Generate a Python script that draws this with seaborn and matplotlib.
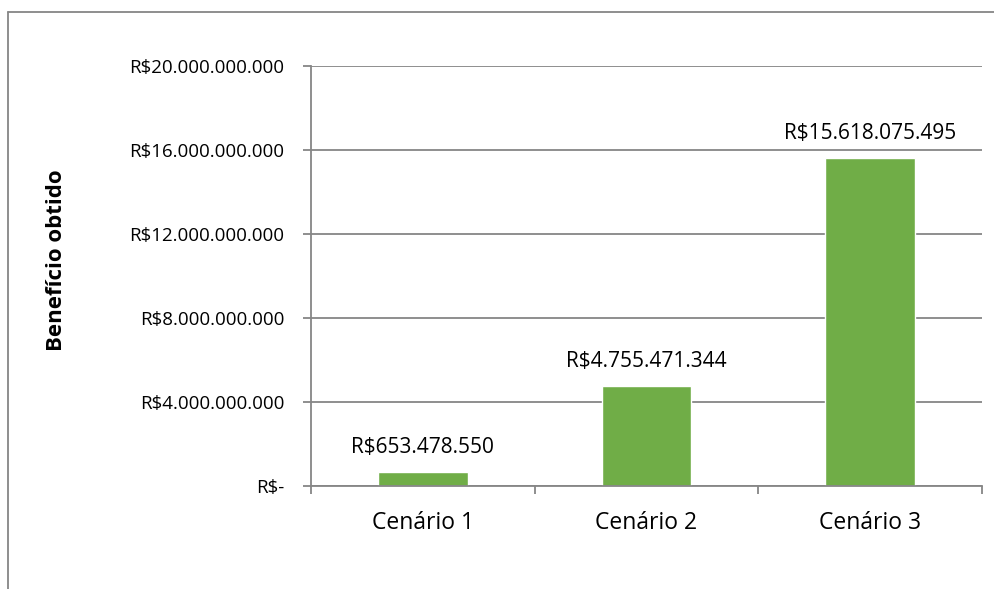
import matplotlib
matplotlib.use("Agg")
import matplotlib.pyplot as plt
import seaborn as sns
import numpy as np
from matplotlib.ticker import FuncFormatter, FixedLocator
from matplotlib.lines import Line2D

categories = ["Cenário 1", "Cenário 2", "Cenário 3"]
values = [653478550, 4755471344, 15618075495]
yticks = [0, 4e9, 8e9, 12e9, 16e9, 20e9]
ylabel = "Benefício obtido"

sns.set_theme(style="white")
plt.rcParams['font.family'] = ['Open Sans', 'DejaVu Sans']

def brl(v):
    v = int(round(v))
    if v == 0:
        return "R$-"
    return "R$" + f"{v:,}".replace(",", ".")

fig = plt.figure(figsize=(9.94, 5.89), dpi=100)
ax = fig.add_axes([311/994, 1-486/589, (982-311)/994, (486-66)/589])

sns.barplot(x=categories, y=values, color="#70AD47", width=0.4, ax=ax, saturation=1)

ax.set_ylim(0, 20e9)
ax.set_xlim(-0.5, 2.5)
ax.set_yticks(yticks)
ax.yaxis.set_major_formatter(FuncFormatter(lambda v, p: brl(v)))
ax.yaxis.grid(True, color="#868686", linewidth=1.3)
ax.set_axisbelow(True)
for s in ["top", "right"]:
    ax.spines[s].set_visible(False)
for s in ["left", "bottom"]:
    ax.spines[s].set_color("#868686")
    ax.spines[s].set_linewidth(1.3)

ax.tick_params(axis="y", which="major", length=6, width=1.3, color="#868686",
               labelsize=13.5, labelcolor="black", left=True, pad=13)
ax.tick_params(axis="x", which="major", length=0, labelsize=16.5, labelcolor="black", pad=18)
ax.xaxis.set_minor_locator(FixedLocator([-0.5, 0.5, 1.5, 2.5]))
ax.tick_params(axis="x", which="minor", length=6, width=1.3, color="#868686", bottom=True)

ax.set_xlabel("")
ax.set_ylabel(ylabel, fontsize=16, fontweight="bold", color="black", labelpad=0)
ax.yaxis.set_label_coords((67-311)/(982-311), (486-260)/(486-66))

for i, v in enumerate(values):
    ax.annotate(brl(v), (i, v), xytext=(0, 19), textcoords="offset pixels",
                ha="center", va="baseline", fontsize=15, color="black")

# chart border (top and left visible)
fig.add_artist(Line2D([8/994, 8/994], [0, 1-12/589], transform=fig.transFigure,
                      color="#868686", linewidth=1.3))
fig.add_artist(Line2D([8/994, 1], [1-12/589, 1-12/589], transform=fig.transFigure,
                      color="#868686", linewidth=1.3))

fig.savefig("out.png", dpi=100)
